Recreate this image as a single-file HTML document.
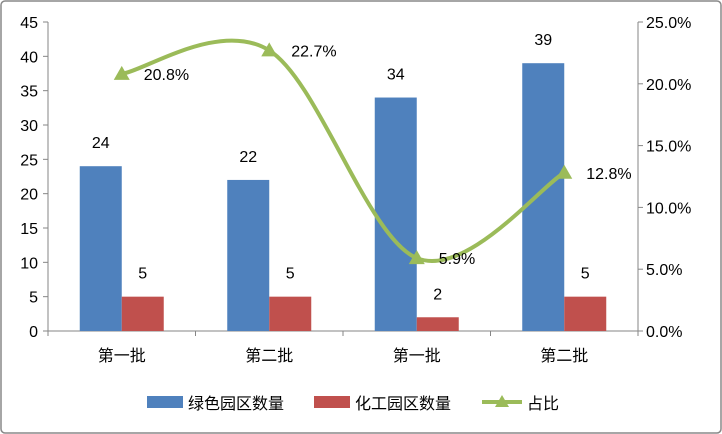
<!DOCTYPE html>
<html><head><meta charset="utf-8"><style>
body{margin:0;background:#fff}
svg{display:block;font-family:"Liberation Sans","Noto Sans CJK SC",sans-serif}
</style></head><body>
<svg width="722" height="434" viewBox="0 0 722 434">
<rect x="1" y="1" width="720" height="432" rx="4" fill="#fff" stroke="#888" stroke-width="1.5"/>
<g id="axes"></g><g id="bars"></g><g id="line"></g>
<g font-size="16" fill="#000">
<rect x="147" y="396" width="36" height="12" fill="#4F81BD"/>
<text x="188" y="409">绿色园区数量</text>
<rect x="314" y="396" width="36" height="12" fill="#C0504D"/>
<text x="355" y="409">化工园区数量</text>
<line x1="482" y1="402" x2="522" y2="402" stroke="#9BBB59" stroke-width="4"/>
<polygon points="502,395 509,407 495,407" fill="#9BBB59"/>
<text x="527" y="409">占比</text>
</g>
</svg>
<script>
const categories=["第一批","第二批","第一批","第二批"];
const greenCounts=[24,22,34,39];
const chemCounts=[5,5,2,5];
const ratios=[20.8,22.7,5.9,12.8];
const leftTicks=[0,5,10,15,20,25,30,35,40,45];
const rightTicks=[0,5,10,15,20,25];
const NS="http://www.w3.org/2000/svg";
const X0=48,X1=638,Y0=331,Y1=22;
const yL=v=>Y0-(v/45)*(Y0-Y1);
const yR=v=>Y0-(v/25)*(Y0-Y1);
const cw=(X1-X0)/categories.length;
const xc=i=>X0+cw*(i+0.5);
function mk(tag,attrs,parent,txt){const e=document.createElementNS(NS,tag);for(const k in attrs)e.setAttribute(k,attrs[k]);if(txt!==undefined)e.textContent=txt;parent.appendChild(e);return e;}
const ax=document.getElementById('axes'),bg=document.getElementById('bars'),lg=document.getElementById('line');
let e;
e=mk('line',{x1:X0,y1:Y1,x2:X0,y2:Y0,stroke:'#868686'},ax);


e=mk('line',{x1:X1,y1:Y1,x2:X1,y2:Y0,stroke:'#868686'},ax);


e=mk('line',{x1:X0,y1:Y0,x2:X1,y2:Y0,stroke:'#868686'},ax);


leftTicks.forEach(t=>{const y=yL(t);
mk('line',{x1:X0-5,y1:y,x2:X0,y2:y,stroke:'#868686'},ax);
e=mk('text',{x:X0-10,y:y+6,'text-anchor':'end','font-size':16},ax,String(t));

});
rightTicks.forEach(t=>{const y=yR(t);
mk('line',{x1:X1,y1:y,x2:X1+5,y2:y,stroke:'#868686'},ax);
e=mk('text',{x:X1+8,y:y+6,'font-size':16},ax,t.toFixed(1)+'%');

});
for(let i=0;i<=categories.length;i++){mk('line',{x1:X0+cw*i,y1:Y0,x2:X0+cw*i,y2:Y0+5,stroke:'#868686'},ax);}
categories.forEach((c,i)=>{e=mk('text',{x:xc(i),y:Y0+30,'text-anchor':'middle','font-size':16},ax,c);

});
const bw=42;
greenCounts.forEach((v,i)=>{const x=xc(i)-bw;
e=mk('rect',{x:x,y:yL(v),width:bw,height:Y0-yL(v),fill:'#4F81BD'},bg);


e=mk('text',{x:x+bw/2,y:yL(v)-18,'text-anchor':'middle','font-size':16},bg,String(v));

});
chemCounts.forEach((v,i)=>{const x=xc(i);
e=mk('rect',{x:x,y:yL(v),width:bw,height:Y0-yL(v),fill:'#C0504D'},bg);


e=mk('text',{x:x+bw/2,y:yL(v)-18,'text-anchor':'middle','font-size':16},bg,String(v));

});
const pts=ratios.map((r,i)=>[xc(i),yR(r)]);
let d='M'+pts[0][0]+','+pts[0][1];const tn=0.5/3*2;
for(let i=0;i<pts.length-1;i++){const p0=pts[Math.max(0,i-1)],p1=pts[i],p2=pts[i+1],p3=pts[Math.min(pts.length-1,i+2)];
const c1=[p1[0]+(p2[0]-p0[0])*tn/2,p1[1]+(p2[1]-p0[1])*tn/2],c2=[p2[0]-(p3[0]-p1[0])*tn/2,p2[1]-(p3[1]-p1[1])*tn/2];
d+=` C${c1[0]},${c1[1]} ${c2[0]},${c2[1]} ${p2[0]},${p2[1]}`;}
e=mk('path',{d:d,fill:'none',stroke:'#9BBB59','stroke-width':4,'stroke-linejoin':'round'},lg);


pts.forEach((p,i)=>{e=mk('polygon',{points:`${p[0]},${p[1]-8} ${p[0]+8},${p[1]+6} ${p[0]-8},${p[1]+6}`,fill:'#9BBB59'},lg);


e=mk('text',{x:p[0]+22,y:p[1]+6,'font-size':16},lg,ratios[i].toFixed(1)+'%');

});
</script>
</body></html>
